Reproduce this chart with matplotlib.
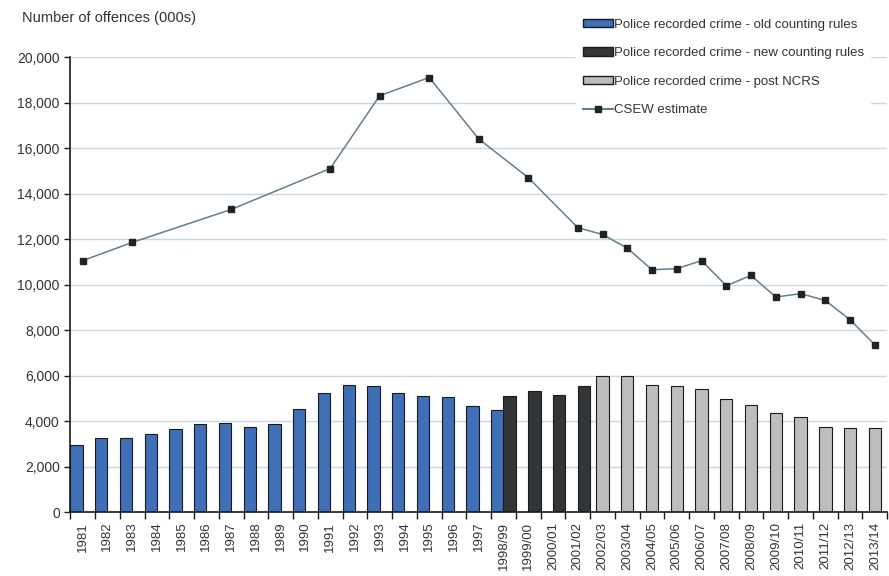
import numpy as np
import matplotlib
matplotlib.use("Agg")
import matplotlib.pyplot as plt
from matplotlib.patches import Patch
from matplotlib.lines import Line2D

plt.rcParams["font.family"] = ["Liberation Sans", "DejaVu Sans"]

# categories (financial years from 1998/99)
years = ["1981", "1982", "1983", "1984", "1985", "1986", "1987", "1988", "1989",
         "1990", "1991", "1992", "1993", "1994", "1995", "1996", "1997",
         "1998/99", "1999/00", "2000/01", "2001/02", "2002/03", "2003/04",
         "2004/05", "2005/06", "2006/07", "2007/08", "2008/09", "2009/10",
         "2010/11", "2011/12", "2012/13", "2013/14"]
nan = np.nan

# police recorded crime, old counting rules (000s)
old_rules = [2950, 3250, 3250, 3450, 3650, 3850, 3900, 3750, 3850, 4550, 5250,
             5600, 5550, 5250, 5100, 5050, 4650, 4500] + [nan] * 15
# police recorded crime, new counting rules
new_rules = [nan] * 17 + [5100, 5300, 5150, 5550] + [nan] * 12
# police recorded crime, post NCRS
post_ncrs = [nan] * 21 + [6000, 6000, 5600, 5550, 5400, 4950, 4700, 4350,
                          4200, 3750, 3700, 3700]
# CSEW estimate (only surveyed years)
csew = [11050, nan, 11850, nan, nan, nan, 13300, nan, nan, nan, 15100, nan,
        18300, nan, 19100, nan, 16400, nan, 14700, nan, 12500, 12200, 11600,
        10650, 10700, 11050, 9950, 10400, 9450, 9600, 9300, 8450, 7350]

BLUE = "#3f6fb6"
DARK = "#333638"
LIGHT = "#bdbdbd"
EDGE = "#1a1a1a"
LINE = "#5f808c"
TEXT = "#333333"

fig = plt.figure(figsize=(8.89, 5.76), dpi=100)
ax = fig.add_axes([0.079, 0.111, 0.919, 0.790])

x = np.arange(len(years))
ax.bar(x - 0.25, old_rules, width=0.5, color=BLUE, edgecolor=EDGE, linewidth=0.8, zorder=2)
ax.bar(x + 0.25, new_rules, width=0.5, color=DARK, edgecolor=EDGE, linewidth=0.8, zorder=2)
ax.bar(x, post_ncrs, width=0.5, color=LIGHT, edgecolor=EDGE, linewidth=0.8, zorder=2)

# connect only the surveyed years
cs = np.array(csew, dtype=float)
ok = ~np.isnan(cs)
ax.plot(x[ok], cs[ok], color=LINE, linewidth=1.1, marker="s", markersize=5,
        markerfacecolor="#222222", markeredgecolor="#222222", zorder=3)

ax.set_xlim(-0.5, len(years) - 0.5)
ax.set_ylim(0, 20000)
ax.set_yticks(np.arange(0, 20001, 2000))
ax.set_yticklabels([f"{v:,}" for v in range(0, 20001, 2000)])
ax.yaxis.grid(True, color="#c9d8de", linewidth=1)
ax.set_axisbelow(True)

ax.set_xticks(x)
ax.set_xticklabels(years, rotation=90)
ax.set_xticks(np.arange(-0.5, len(years)), minor=True)
ax.tick_params(axis="x", which="major", length=0, pad=7, labelsize=9.5, labelcolor=TEXT)
ax.tick_params(axis="x", which="minor", length=5, width=1, color=EDGE)
ax.tick_params(axis="y", length=4, width=1, color=EDGE, labelsize=10, labelcolor=TEXT)

for s in ["top", "right"]:
    ax.spines[s].set_visible(False)
ax.spines["left"].set_color(EDGE)
ax.spines["bottom"].set_color(EDGE)
ax.spines["left"].set_linewidth(1.2)
ax.spines["bottom"].set_linewidth(1.2)

fig.text(22 / 889, 1 - 18 / 576, "Number of offences (000s)", fontsize=10.5,
         color=TEXT, va="center", ha="left")

handles = [
    Patch(facecolor=BLUE, edgecolor=EDGE, label="Police recorded crime - old counting rules"),
    Patch(facecolor=DARK, edgecolor=EDGE, label="Police recorded crime - new counting rules"),
    Patch(facecolor=LIGHT, edgecolor=EDGE, label="Police recorded crime - post NCRS"),
    Line2D([], [], color=LINE, marker="s", markersize=5, markerfacecolor="#222222",
           markeredgecolor="#222222", label="CSEW estimate"),
]
leg = fig.legend(handles=handles, loc="upper left", bbox_to_anchor=(576 / 889, 1 - 12 / 576),
                 frameon=True, fancybox=False, edgecolor="white", facecolor="white",
                 framealpha=1, fontsize=9.5, handlelength=2.3, handleheight=0.6,
                 handletextpad=0.05, labelspacing=1.25, borderaxespad=0, borderpad=0.5)
for t in leg.get_texts():
    t.set_color(TEXT)

fig.savefig("out.png", dpi=100)
